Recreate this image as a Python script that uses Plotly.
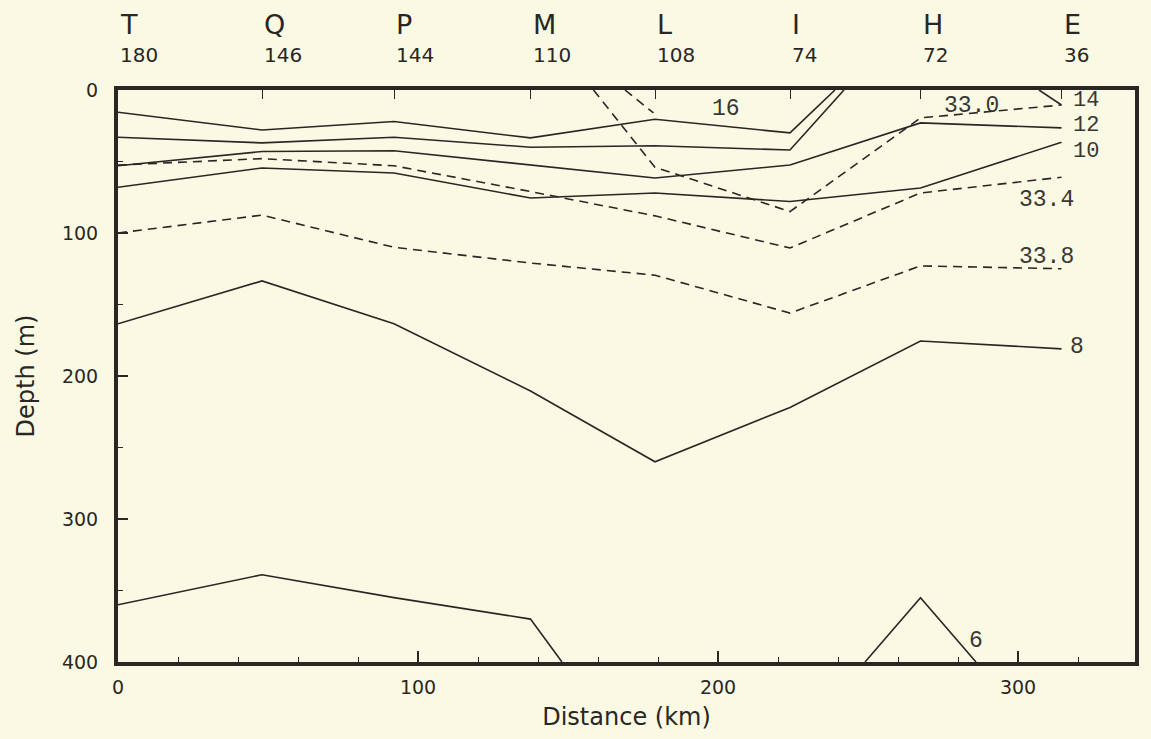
import plotly.graph_objects as go

# stations along the section (top axis)
station_names = ["T", "Q", "P", "M", "L", "I", "H", "E"]
station_nums = ["180", "146", "144", "110", "108", "74", "72", "36"]
station_km = [0, 48, 92, 137.5, 179, 224, 267.5, 314.5]

# isotherms (solid), depth in m
t16_x = station_km[:6] + [239]
t16_y = [15.5, 28, 22, 33.5, 20.5, 30, 0]
t14_x = station_km[:6] + [242]
t14_y = [33, 37, 33, 40, 39, 42, 0]
t14e_x = [307, 314.5]
t14e_y = [0, 10.5]
t12_y = [53, 43, 42.5, 52.5, 61.5, 52.5, 23, 26.5]
t10_y = [68, 54.5, 58, 75.5, 72, 78, 68.5, 36.5]
t8_y = [163.5, 133.5, 163.5, 210.5, 260, 222, 175.5, 181]
t6a_x = [0, 48, 92, 137.5, 148]
t6a_y = [360, 339, 355, 370, 400]
t6b_x = [249, 267.5, 286]
t6b_y = [400, 355, 400]

# isohalines (dashed)
s330_x = [158.5, 179, 224, 267.5, 314.5]
s330_y = [0, 54, 85, 19.5, 10.5]
s330b_x = [169, 178.5]
s330b_y = [0, 16]
s334_y = [52.5, 48, 53, 71, 88, 110.5, 72, 61]
s338_y = [100, 87.5, 110, 121, 129.5, 156, 123, 125]

# contour labels
lab_text = ["16", "14", "12", "10", "33.0", "33.4", "33.8", "8", "6"]
lab_x = [202.5, 322.5, 322.5, 322.5, 284.5, 309.5, 309.5, 319.5, 286]
lab_y = [13, 7, 25, 43, 11, 77, 117, 180, 385]
lab_size = [23, 22, 22, 22, 23, 23, 23, 23, 23]

ink = "#2a2623"
bg = "#fafae4"

solid = [
    (t16_x, t16_y), (t14_x, t14_y), (t14e_x, t14e_y),
    (station_km, t12_y), (station_km, t10_y), (station_km, t8_y),
    (t6a_x, t6a_y), (t6b_x, t6b_y),
]
dashed = [
    (s330_x, s330_y), (s330b_x, s330b_y),
    (station_km, s334_y), (station_km, s338_y),
]

fig = go.Figure()
for x, y in solid:
    fig.add_trace(go.Scatter(x=x, y=y, mode="lines",
                             line=dict(color=ink, width=1.6), hoverinfo="skip"))
for x, y in dashed:
    fig.add_trace(go.Scatter(x=x, y=y, mode="lines",
                             line=dict(color=ink, width=1.6, dash="9px,6px"), hoverinfo="skip"))

# invisible trace so the top station axis gets drawn
fig.add_trace(go.Scatter(x=station_km, y=[0] * len(station_km), xaxis="x2",
                         mode="markers", marker=dict(opacity=0), hoverinfo="skip"))

for t, x, y, s in zip(lab_text, lab_x, lab_y, lab_size):
    fig.add_annotation(x=x, y=y, text=t, showarrow=False,
                       font=dict(family="Liberation Mono", size=s, color="#3a3632"))

for name, num, x in zip(station_names, station_nums, station_km):
    fig.add_annotation(x=x, y=1.114, xref="x", yref="paper", text=name, showarrow=False,
                       xanchor="left", yanchor="middle",
                       font=dict(family="DejaVu Sans", size=27, color=ink))
    fig.add_annotation(x=x, y=1.061, xref="x", yref="paper", text=num, showarrow=False,
                       xanchor="left", yanchor="middle",
                       font=dict(family="DejaVu Sans", size=20, color=ink))

fig.update_layout(
    width=1151, height=739,
    margin=dict(l=118, r=12, t=90, b=77),
    paper_bgcolor=bg, plot_bgcolor=bg,
    showlegend=False,
    font=dict(family="DejaVu Sans", color=ink),
    xaxis=dict(
        range=[0, 339], showgrid=False, zeroline=False,
        showline=True, mirror=True, linewidth=4, linecolor=ink,
        tickvals=[0, 100, 200, 300], ticks="inside", ticklen=11, tickwidth=1.5, tickcolor=ink,
        minor=dict(dtick=20, ticks="inside", ticklen=5, tickwidth=1.2, tickcolor=ink),
        tickfont=dict(size=19), ticklabelstandoff=5,
        title=dict(text="Distance (km)", font=dict(size=24), standoff=12),
    ),
    xaxis2=dict(
        range=[0, 339], overlaying="x", side="top", showgrid=False, zeroline=False,
        showline=False, tickvals=station_km, ticks="inside", ticklen=9, tickwidth=1.2,
        tickcolor=ink, showticklabels=False,
    ),
    yaxis=dict(
        range=[400, 0], showgrid=False, zeroline=False,
        showline=True, mirror=True, linewidth=4, linecolor=ink,
        tickvals=[0, 100, 200, 300, 400], ticks="inside", ticklen=10, tickwidth=1.5, tickcolor=ink,
        minor=dict(dtick=50, ticks="inside", ticklen=5, tickwidth=1.2, tickcolor=ink),
        tickfont=dict(size=19), ticklabelstandoff=12,
        title=dict(text="Depth (m)", font=dict(size=24), standoff=22),
    ),
)

# drop the page margin so the figure sits at the window corner
fig.write_html("out.html", config={"displayModeBar": False},
               post_script="document.body.style.margin='0';document.body.style.background='" + bg + "';")
